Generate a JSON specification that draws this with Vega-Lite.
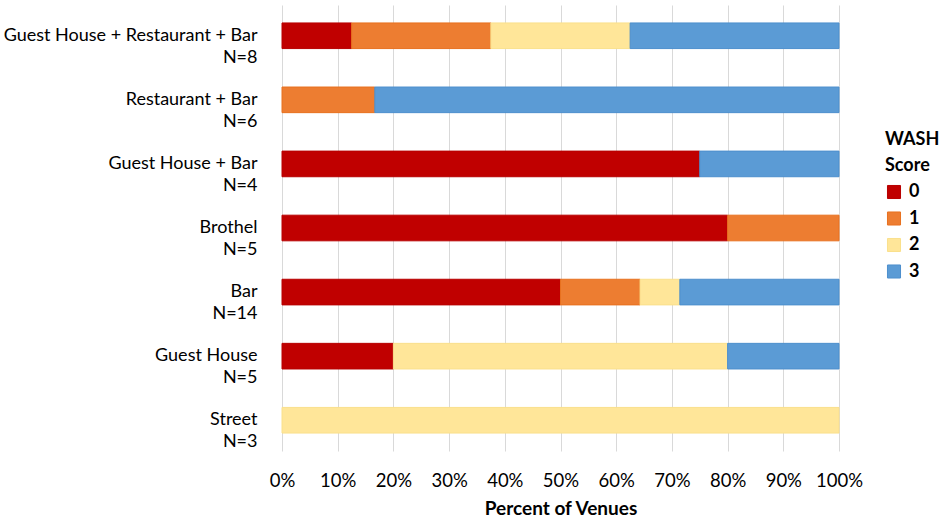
{
  "$schema": "https://vega.github.io/schema/vega-lite/v6.json",
  "width": 557,
  "height": 446,
  "autosize": {"type": "none"},
  "padding": {"left": 282, "top": 5, "right": 104, "bottom": 69},
  "background": "white",
  "config": {
    "font": "Lato",
    "view": {"stroke": null}
  },
  "data": {
    "values": [
      {"venue": "Guest House + Restaurant + Bar\nN=8", "score": "0", "count": 1},
      {"venue": "Guest House + Restaurant + Bar\nN=8", "score": "1", "count": 2},
      {"venue": "Guest House + Restaurant + Bar\nN=8", "score": "2", "count": 2},
      {"venue": "Guest House + Restaurant + Bar\nN=8", "score": "3", "count": 3},
      {"venue": "Restaurant + Bar\nN=6", "score": "1", "count": 1},
      {"venue": "Restaurant + Bar\nN=6", "score": "3", "count": 5},
      {"venue": "Guest House + Bar\nN=4", "score": "0", "count": 3},
      {"venue": "Guest House + Bar\nN=4", "score": "3", "count": 1},
      {"venue": "Brothel\nN=5", "score": "0", "count": 4},
      {"venue": "Brothel\nN=5", "score": "1", "count": 1},
      {"venue": "Bar\nN=14", "score": "0", "count": 7},
      {"venue": "Bar\nN=14", "score": "1", "count": 2},
      {"venue": "Bar\nN=14", "score": "2", "count": 1},
      {"venue": "Bar\nN=14", "score": "3", "count": 4},
      {"venue": "Guest House\nN=5", "score": "0", "count": 1},
      {"venue": "Guest House\nN=5", "score": "2", "count": 3},
      {"venue": "Guest House\nN=5", "score": "3", "count": 1},
      {"venue": "Street\nN=3", "score": "2", "count": 3}
    ]
  },
  "mark": {"type": "bar", "strokeWidth": 1},
  "encoding": {
    "y": {
      "field": "venue",
      "type": "nominal",
      "sort": null,
      "scale": {"paddingInner": 0.6, "paddingOuter": 0.28},
      "axis": {
        "title": null,
        "domain": false,
        "ticks": false,
        "grid": false,
        "labelExpr": "split(datum.label, '\\n')",
        "labelFontSize": 18,
        "labelColor": "#000000",
        "labelPadding": 25,
        "labelLineHeight": 22,
        "labelBaseline": "top",
        "labelOffset": -9,
        "labelLimit": 400
      }
    },
    "x": {
      "field": "count",
      "type": "quantitative",
      "stack": "normalize",
      "scale": {"domain": [0, 1]},
      "axis": {
        "title": "Percent of Venues",
        "format": "%",
        "values": [0, 0.1, 0.2, 0.3, 0.4, 0.5, 0.6, 0.7, 0.8, 0.9, 1],
        "domain": false,
        "ticks": false,
        "gridColor": "#D9D9D9",
        "gridWidth": 1,
        "labelFontSize": 18.5,
        "labelColor": "#000000",
        "labelPadding": 20,
        "labelOverlap": false,
        "labelFlush": false,
        "titleFontSize": 19,
        "titleFontWeight": "bold",
        "titleColor": "#000000",
        "titlePadding": 10
      }
    },
    "order": {"field": "score", "type": "ordinal"},
    "fill": {
      "field": "score",
      "type": "nominal",
      "scale": {
        "domain": ["0", "1", "2", "3"],
        "range": ["#C00000", "#ED7D31", "#FFE699", "#5B9BD5"]
      },
      "legend": {
        "title": ["WASH", "Score"],
        "orient": "none",
        "legendX": 603,
        "legendY": 126,
        "titleFontSize": 18,
        "titleFontWeight": "bold",
        "titleColor": "#000000",
        "titleLineHeight": 26,
        "titlePadding": 8,
        "labelFontSize": 18,
        "labelFontWeight": "bold",
        "labelColor": "#000000",
        "symbolType": "square",
        "symbolSize": 170,
        "symbolStrokeWidth": 1,
        "symbolOffset": 0,
        "rowPadding": 8.5,
        "labelOffset": 6
      }
    },
    "stroke": {
      "field": "score",
      "type": "nominal",
      "scale": {
        "domain": ["0", "1", "2", "3"],
        "range": ["#B80000", "#E8711F", "#FAE08C", "#4D8FCD"]
      },
      "legend": null
    }
  }
}
